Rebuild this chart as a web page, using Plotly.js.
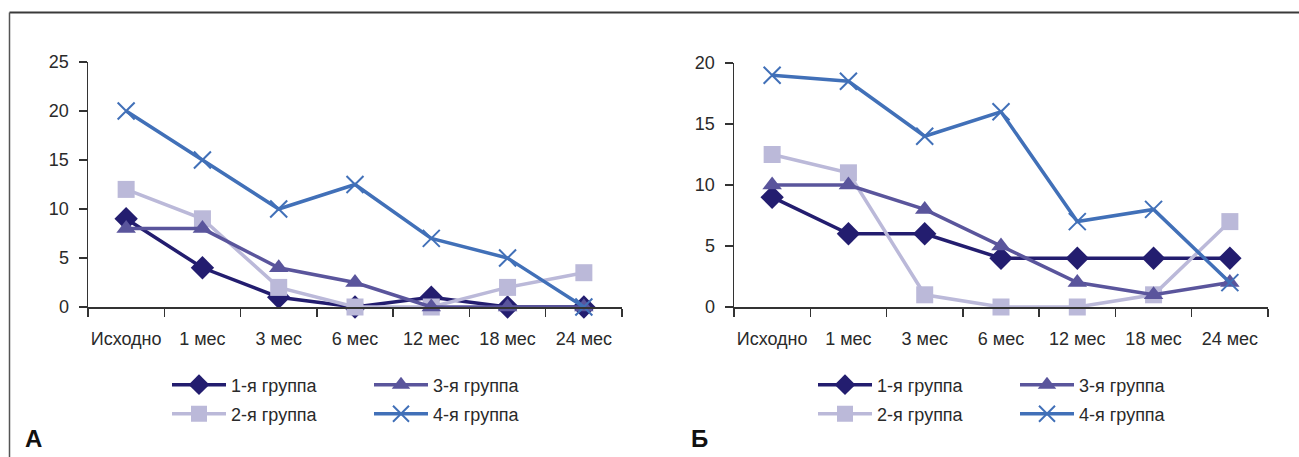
<!DOCTYPE html>
<html>
<head>
<meta charset="utf-8">
<script src="https://cdn.plot.ly/plotly-3.0.1.min.js"></script>
<style>
html,body{margin:0;padding:0;background:#fff;}
#chart{width:1299px;height:457px;}
</style>
</head>
<body>
<div id="chart"></div>
<script>
// ---- data ----
const categories = ['Исходно', '1 мес', '3 мес', '6 мес', '12 мес', '18 мес', '24 мес'];
const seriesNames = ['1-я группа', '2-я группа', '3-я группа', '4-я группа'];

// Panel А
const a_group1 = [9, 4, 1, 0, 1, 0, 0];
const a_group2 = [12, 9, 2, 0, 0, 2, 3.5];
const a_group3 = [8, 8, 4, 2.5, 0, 0, 0];
const a_group4 = [20, 15, 10, 12.5, 7, 5, 0];

// Panel Б
const b_group1 = [9, 6, 6, 4, 4, 4, 4];
const b_group2 = [12.5, 11, 1, 0, 0, 1, 7];
const b_group3 = [10, 10, 8, 5, 2, 1, 2];
const b_group4 = [19, 18.5, 14, 16, 7, 8, 2];

const a_ticks = [0, 5, 10, 15, 20, 25];
const b_ticks = [0, 5, 10, 15, 20];
const panelLabels = ['А', 'Б'];

// ---- styles ----
const FONT = '"Liberation Sans", Arial, Helvetica, sans-serif';
const colors = ['#231d6f', '#bbb9d9', '#5a559c', '#4170b8'];
const markers = [
  {symbol: 'diamond', size: 18},
  {symbol: 'square', size: 17},
  {symbol: 'triangle-up', size: 17},
  {symbol: 'x-thin', size: 17}
];

function mkTrace(vals, i, xa, ya, legendId) {
  const m = {symbol: markers[i].symbol, size: markers[i].size, color: colors[i]};
  if (markers[i].symbol === 'x-thin') m.line = {color: colors[i], width: 2};
  return {
    type: 'scatter', mode: 'lines+markers',
    x: categories, y: vals, name: seriesNames[i],
    xaxis: xa, yaxis: ya, legend: legendId,
    line: {color: colors[i], width: 3.5},
    marker: m, cliponaxis: false, hoverinfo: 'skip'
  };
}

const A = [a_group1, a_group2, a_group3, a_group4];
const B = [b_group1, b_group2, b_group3, b_group4];
const traces = [];
// row1 legends: groups 1 & 3 ; row2 legends: groups 2 & 4
const legA = ['legend', 'legend2', 'legend', 'legend2'];
const legB = ['legend3', 'legend4', 'legend3', 'legend4'];
A.forEach((v, i) => traces.push(mkTrace(v, i, 'x', 'y', legA[i])));
B.forEach((v, i) => traces.push(mkTrace(v, i, 'x2', 'y2', legB[i])));

const W = 1299, H = 457;
const px = v => v / W;
const py = v => 1 - v / H;

const axisCommon = {
  showline: true, linecolor: '#333', linewidth: 1.5,
  ticks: 'outside', ticklen: 8, tickwidth: 1.5, tickcolor: '#333',
  showgrid: false, zeroline: false, fixedrange: true,
  tickfont: {family: FONT, size: 18, color: '#2a2a2a'}
};
const xCommon = Object.assign({}, axisCommon, {
  type: 'category', tickson: 'boundaries', range: [-0.5, 6.5], tickangle: 0,
  categoryorder: 'array', categoryarray: categories, ticklabelstandoff: 15
});

function legendDef(xPix, yPix, ew) {
  return {
    orientation: 'h', x: px(xPix), y: py(yPix), xanchor: 'left', yanchor: 'middle',
    xref: 'paper', yref: 'paper',
    itemwidth: 54, entrywidth: ew, entrywidthmode: 'pixels',
    font: {family: FONT, size: 18, color: '#2a2a2a'},
    bgcolor: 'rgba(0,0,0,0)', borderwidth: 0, itemclick: false, itemdoubleclick: false
  };
}

const layout = {
  width: W, height: H,
  margin: {l: 0, r: 0, t: 0, b: 0},
  paper_bgcolor: '#fff', plot_bgcolor: 'rgba(0,0,0,0)',
  font: {family: FONT, color: '#2a2a2a'},
  showlegend: true,
  xaxis: Object.assign({}, xCommon, {domain: [px(88), px(622)], anchor: 'y'}),
  yaxis: Object.assign({}, axisCommon, {domain: [py(307), py(62)], range: [0, 25], tickvals: a_ticks, anchor: 'x', ticklabelstandoff: 6}),
  xaxis2: Object.assign({}, xCommon, {domain: [px(734), px(1268)], anchor: 'y2'}),
  yaxis2: Object.assign({}, axisCommon, {domain: [py(307), py(63)], range: [0, 20], tickvals: b_ticks, anchor: 'x2', ticklabelstandoff: 6}),
  legend: legendDef(167, 385, 133),
  legend2: legendDef(167, 414, 133),
  legend3: legendDef(813, 385, 133),
  legend4: legendDef(813, 414, 133),
  shapes: [
    {type: 'line', xref: 'paper', yref: 'paper', x0: px(9.5), x1: 1, y0: py(12.5), y1: py(12.5), line: {color: '#3a3a3a', width: 2}},
    {type: 'line', xref: 'paper', yref: 'paper', x0: px(9.5), x1: px(9.5), y0: py(12.5), y1: 0, line: {color: '#555', width: 1.5}}
  ],
  annotations: [
    {text: '<b>' + panelLabels[0] + '</b>', xref: 'paper', yref: 'paper', x: px(23), y: py(438), xanchor: 'left', yanchor: 'middle', showarrow: false, font: {family: FONT, size: 24, color: '#111'}},
    {text: '<b>' + panelLabels[1] + '</b>', xref: 'paper', yref: 'paper', x: px(689), y: py(438), xanchor: 'left', yanchor: 'middle', showarrow: false, font: {family: FONT, size: 24, color: '#111'}}
  ]
};

Plotly.newPlot('chart', traces, layout, {displayModeBar: false, staticPlot: true});
</script>
</body>
</html>
